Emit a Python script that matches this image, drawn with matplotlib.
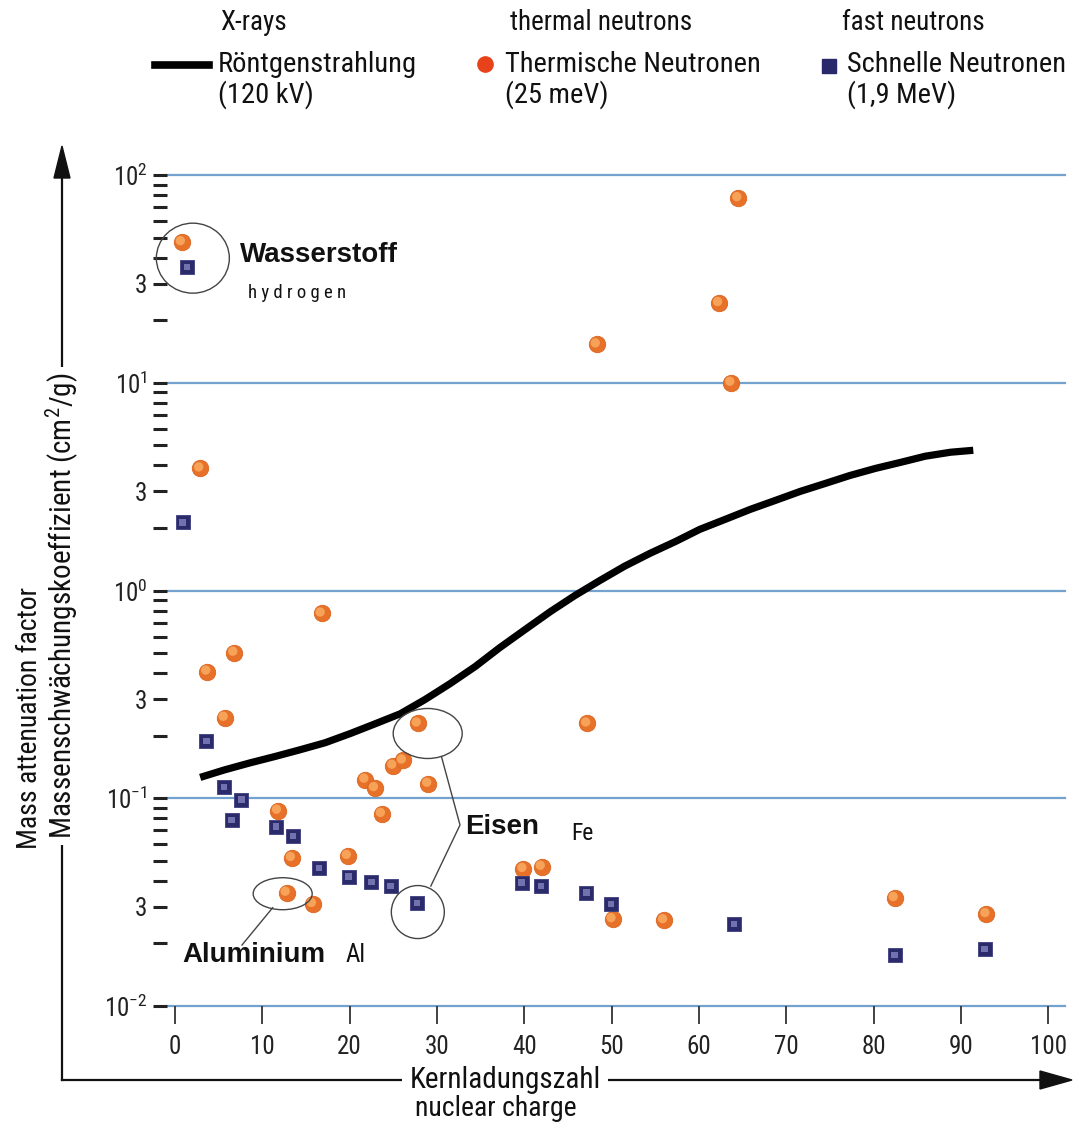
import math

import matplotlib.pyplot as plt
import matplotlib.transforms as mtransforms
from matplotlib import font_manager
from matplotlib.lines import Line2D
from matplotlib.patches import Ellipse, Polygon
from matplotlib.ticker import FixedLocator, FuncFormatter, LogLocator, NullFormatter

# Röntgenstrahlung 120 kV (Kurve)
xray_z = [2.9, 5.7, 8.6, 11.5, 14.3, 17.2, 20.1, 22.9, 25.8, 28.6, 31.5, 34.4, 37.2, 40.1, 43.0,
          45.8, 48.7, 51.5, 54.4, 57.3, 60.1, 63.0, 65.9, 68.7, 71.6, 74.5, 77.3, 80.2, 83.1,
          85.9, 88.8, 91.4]
xray_mu = [0.126, 0.137, 0.148, 0.159, 0.171, 0.185, 0.205, 0.228, 0.255, 0.298, 0.356, 0.431,
           0.531, 0.649, 0.792, 0.946, 1.12, 1.31, 1.51, 1.72, 1.97, 2.20, 2.46, 2.71, 3.00, 3.28,
           3.58, 3.87, 4.14, 4.43, 4.63, 4.73]

# thermische Neutronen 25 meV
thermal_z = [0.8, 2.9, 3.7, 5.7, 6.8, 11.8, 13.4, 12.8, 15.8, 16.8, 19.8, 21.8, 22.9, 23.7, 25.0,
             26.1, 27.8, 29.0, 39.9, 42.0, 47.2, 48.3, 50.1, 56.0, 62.3, 63.7, 64.5, 82.4, 92.9]
thermal_mu = [47.5, 3.87, 0.407, 0.244, 0.502, 0.0871, 0.0516, 0.0351, 0.0310, 0.775, 0.0528, 0.123,
              0.112, 0.0841, 0.1435, 0.152, 0.229, 0.1175, 0.0457, 0.0468, 0.229, 15.3, 0.0262,
              0.0259, 24.2, 10.0, 77.4, 0.0331, 0.0277]

# schnelle Neutronen 1,9 MeV
fast_z = [1.4, 0.9, 3.6, 5.6, 6.5, 7.6, 11.6, 13.5, 16.5, 19.9, 22.5, 24.7, 27.7,
          39.7, 41.9, 47.1, 49.9, 64.0, 82.4, 92.7]
fast_mu = [36.0, 2.13, 0.189, 0.1135, 0.0787, 0.0985, 0.0730, 0.0659, 0.0462, 0.0419, 0.0396,
           0.0379, 0.0313, 0.0392, 0.0378, 0.0351, 0.0310, 0.0248, 0.0176, 0.0188]

x_ticks = [0, 10, 20, 30, 40, 50, 60, 70, 80, 90, 100]

W, H = 1080, 1122


def pick_font(names):
    have = {f.name for f in font_manager.fontManager.ttflist}
    for n in names:
        if n in have:
            return n
    return 'DejaVu Sans'


narrow = pick_font(['Liberation Sans Narrow', 'Roboto Condensed', 'Liberation Sans'])
sans = pick_font(['Liberation Sans', 'DejaVu Sans'])
plt.rcParams['font.family'] = [sans, 'DejaVu Sans']
plt.rcParams['mathtext.fontset'] = 'custom'
plt.rcParams['mathtext.rm'] = narrow
plt.rcParams['mathtext.it'] = narrow

INK = '#111111'


def fx(x):
    return x / W


def fy(y):
    return 1 - y / H


def log_label(v, pos):
    return r'$10^{%d}$' % round(math.log10(v))


def three_label(v, pos):
    m = v / 10 ** math.floor(math.log10(v) + 1e-9)
    return '3' if abs(m - 3) < 0.01 else ''


fig = plt.figure(figsize=(W / 100, H / 100), dpi=100)
ax = fig.add_axes([fx(167), fy(1006), (1065 - 167) / W, (1006 - 175) / H])

ax.set_yscale('log')
ax.set_ylim(1e-2, 1e2)
ax.set_xlim(-0.9, 101.9)
for s in ax.spines.values():
    s.set_visible(False)

# Dekaden-Linien
for e in range(-2, 3):
    ax.axhline(10.0 ** e, color='#74a2cf', lw=1.6, zorder=1, clip_on=False)

# Achsenteilung
ax.yaxis.set_major_locator(FixedLocator([1e-2, 1e-1, 1e0, 1e1, 1e2]))
ax.yaxis.set_major_formatter(FuncFormatter(log_label))
ax.yaxis.set_minor_locator(LogLocator(base=10, subs=[2, 3, 4, 5, 6, 7, 8, 9]))
ax.yaxis.set_minor_formatter(FuncFormatter(three_label))
ax.tick_params(axis='y', which='both', direction='out', length=10, width=2.2, color='#222222',
               labelsize=18, pad=4, labelcolor='#222222')
ax.set_xticks(x_ticks)
ax.tick_params(axis='x', which='both', direction='out', length=13, width=1.3, color='#333333',
               labelsize=18, pad=8, labelcolor='#222222')
ax.xaxis.set_minor_formatter(NullFormatter())
for lab in ax.get_xticklabels() + ax.get_yticklabels(which='both'):
    lab.set_fontfamily(narrow)

# Röntgenkurve
ax.plot(xray_z, xray_mu, color='black', lw=5.2, solid_capstyle='butt', solid_joinstyle='round',
        zorder=3)

# Kugeln / Würfel mit etwas Glanz
hi = mtransforms.offset_copy(ax.transData, fig=fig, x=-1.5, y=1.5, units='dots')
ax.scatter(thermal_z, thermal_mu, s=140, color='#e8712a', edgecolors='#d9651f', linewidths=0.6,
           zorder=4, clip_on=False)
ax.scatter(thermal_z, thermal_mu, s=45, color='#f9ad62', edgecolors='none', alpha=0.85, zorder=5,
           transform=hi, clip_on=False)
ax.scatter(fast_z, fast_mu, s=90, marker='s', color='#2b2b6c', edgecolors='#3d3d80', linewidths=0.6,
           zorder=4, clip_on=False)
ax.scatter(fast_z, fast_mu, s=22, marker='s', color='#8585c0', edgecolors='none', alpha=0.8, zorder=5)

fig.canvas.draw()


def at(x, y):
    """Datenpunkt -> Bildpixel (oben = 0)."""
    dx, dy = ax.transData.transform((x, y))
    return dx, H - dy


def ring(cx, cy, w, h):
    fig.add_artist(Ellipse((cx, H - cy), w, h, transform=mtransforms.IdentityTransform(),
                           fill=False, ec='#444444', lw=1.0))


def line(xs, ys, lw=1.0, color='#444444'):
    fig.add_artist(Line2D([fx(v) for v in xs], [fy(v) for v in ys], transform=fig.transFigure,
                          color=color, lw=lw))


# Wasserstoff
hx, hy = at(thermal_z[0], thermal_mu[0])
ring(hx + 11, hy + 16, 73, 70)
fig.text(fx(240), fy(255), 'Wasserstoff', fontsize=20, fontweight='bold', va='center', ha='left',
         color=INK)
fig.text(fx(248), fy(293), 'h y d r o g e n', fontsize=13.5, va='center', ha='left', color=INK,
         family=narrow)

# Eisen
ex, ey = at(thermal_z[16], thermal_mu[16])
ring(ex + 10, ey + 10, 69, 50)
fx2, fy2 = at(fast_z[12], fast_mu[12])
ring(fx2 + 1, fy2 + 9, 53, 53)
line([ex + 24, 460, fx2 + 14], [ey + 34, 825, fy2 - 17])
fig.text(fx(465), fy(827), 'Eisen', fontsize=20, fontweight='bold', va='center', ha='left', color=INK)
fig.text(fx(571), fy(833), 'Fe', fontsize=17, va='center', ha='left', color=INK, family=narrow)

# Aluminium
ax_, ay_ = at(thermal_z[7], thermal_mu[7])
ring(ax_ - 4, ay_ + 1, 59, 32)
line([ax_ - 14, 242], [ay_ + 15, 945])
fig.text(fx(182), fy(955), 'Aluminium', fontsize=20, fontweight='bold', va='center', ha='left',
         color=INK)
fig.text(fx(346), fy(955), 'Al', fontsize=18, va='center', ha='left', color=INK, family=narrow)

# Legende oben
for x, t in [(220, 'X-rays'), (510, 'thermal neutrons'), (842, 'fast neutrons')]:
    fig.text(fx(x), fy(22), t, fontsize=19.5, va='center', ha='left', family=narrow, color=INK)
line([155, 209], [65, 65], lw=5.5, color='black')
fig.add_artist(Line2D([fx(485)], [fy(64)], transform=fig.transFigure, marker='o', ms=11,
                      color='#e8421a', mec='#e8421a'))
fig.add_artist(Line2D([fx(829)], [fy(66)], transform=fig.transFigure, marker='s', ms=10,
                      color='#28286a', mec='#28286a'))
for x, t1, t2 in [(218, 'Röntgenstrahlung', '(120 kV)'),
                  (505, 'Thermische Neutronen', '(25 meV)'),
                  (847, 'Schnelle Neutronen', '(1,9 MeV)')]:
    fig.text(fx(x), fy(64), t1, fontsize=20.5, va='center', ha='left', family=narrow, color=INK)
    fig.text(fx(x), fy(95), t2, fontsize=20.5, va='center', ha='left', family=narrow, color=INK)

# Achsenpfeile
line([62, 62], [1080, 175], lw=1.6, color=INK)
line([62, 1042], [1080, 1080], lw=1.6, color=INK)
fig.add_artist(Polygon([(fx(62), fy(146)), (fx(54), fy(178)), (fx(70), fy(178))],
                       closed=True, transform=fig.transFigure, color=INK))
fig.add_artist(Polygon([(fx(1072), fy(1080)), (fx(1040), fy(1071)), (fx(1040), fy(1089))],
                       closed=True, transform=fig.transFigure, color=INK))

fig.text(fx(62), fy(606), 'Massenschwächungskoeffizient (cm$^2$/g)', rotation=90, fontsize=21,
         va='center', ha='center', family=narrow, color=INK,
         bbox=dict(facecolor='white', edgecolor='none', pad=4))
fig.text(fx(30), fy(718), 'Mass attenuation factor', rotation=90, fontsize=20,
         va='center', ha='center', family=narrow, color=INK)
fig.text(fx(505), fy(1080), 'Kernladungszahl', fontsize=21, va='center', ha='center',
         family=narrow, color=INK, bbox=dict(facecolor='white', edgecolor='none', pad=5))
fig.text(fx(496), fy(1109), 'nuclear charge', fontsize=20, va='center', ha='center',
         family=narrow, color=INK)

fig.savefig('out.png', dpi=100, facecolor='white')
